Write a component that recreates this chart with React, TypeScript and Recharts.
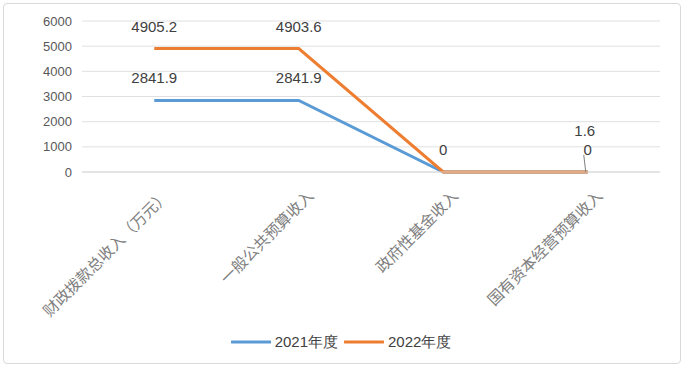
import React from 'react';
import { LineChart, Line, XAxis, YAxis, CartesianGrid, Legend, LabelList } from 'recharts';

const categories = ['财政拨款总收入（万元）', '一般公共预算收入', '政府性基金收入', '国有资本经营预算收入'];
const values2021 = [2841.9, 2841.9, 0, 0];
const values2022 = [4905.2, 4903.6, 0, 1.6];
const yTicks = [0, 1000, 2000, 3000, 4000, 5000, 6000];

const data = categories.map((c, i) => ({ name: c, y2021: values2021[i], y2022: values2022[i] }));

const BLUE = '#5B9BD5';
const ORANGE = '#ED7D31';
const NUM_FONT = '"Liberation Sans", Arial, sans-serif';

const CatTick = (props: any) => {
  const { x, y, payload } = props;
  const ax = x + 16;
  const ay = y + 17;
  return (
    <text
      x={ax}
      y={ay}
      transform={`rotate(-45, ${ax}, ${ay})`}
      textAnchor="end"
      fontSize={15.5}
      fill="#808080"
      fontFamily='"Noto Sans CJK SC", serif'
    >
      {payload.value}
    </text>
  );
};

const makeLabel = (series: string) => (props: any) => {
  const { x, y, value, index } = props;
  if (series === '2022' && index === 2) return null;
  if (series === '2022' && index === 3) {
    return (
      <g>
        <line x1={x - 2} y1={y} x2={x - 4} y2={y - 17} stroke="#808080" strokeWidth={1} />
        <text x={x - 3} y={y - 36} textAnchor="middle" fontSize={15} fill="#404040" fontFamily={NUM_FONT}>
          {value}
        </text>
      </g>
    );
  }
  return (
    <text x={x} y={y - 17} textAnchor="middle" fontSize={15} fill="#404040" fontFamily={NUM_FONT}>
      {value}
    </text>
  );
};

const LegendContent = () => (
  <div style={{ display: 'flex', justifyContent: 'center', alignItems: 'center', fontFamily: NUM_FONT, fontSize: 15, color: '#404040', height: 24, paddingLeft: 22, boxSizing: 'border-box' }}>
    <svg width={40} height={6} style={{ marginRight: 4 }}><line x1={1} y1={3} x2={39} y2={3} stroke={BLUE} strokeWidth={3} strokeLinecap="round" /></svg>
    <span style={{ marginRight: 6 }}>2021年度</span>
    <svg width={40} height={6} style={{ marginRight: 4 }}><line x1={1} y1={3} x2={39} y2={3} stroke={ORANGE} strokeWidth={3} strokeLinecap="round" /></svg>
    <span>2022年度</span>
  </div>
);

export default function App() {
  return (
    <div style={{ position: 'absolute', left: 0, top: 0, width: 688, height: 370, background: '#fff' }}>
      <div style={{ position: 'absolute', left: 3, top: 3, width: 678, height: 361, border: '1px solid #d9d9d9', borderRadius: 4, boxSizing: 'border-box' }} />
      <LineChart width={688} height={370} data={data} margin={{ top: 21, right: 28, left: 0, bottom: 16 }}>
        <CartesianGrid horizontal vertical={false} stroke="#e0e0e0" />
        <XAxis
          dataKey="name"
          scale="band"
          tick={<CatTick />}
          tickLine={false}
          axisLine={{ stroke: '#d9d9d9' }}
          height={158}
          interval={0}
        />
        <YAxis
          width={82}
          domain={[0, 6000]}
          ticks={yTicks}
          tickLine={false}
          axisLine={false}
          tickMargin={4}
          tick={{ fontSize: 13, fill: '#595959', fontFamily: NUM_FONT }}
        />
        <Legend verticalAlign="bottom" content={<LegendContent />} />
        <Line dataKey="y2021" name="2021年度" stroke={BLUE} strokeWidth={3} dot={false} isAnimationActive={false}>
          <LabelList dataKey="y2021" content={makeLabel('2021')} />
        </Line>
        <Line dataKey="y2022" name="2022年度" stroke={ORANGE} strokeWidth={3} dot={false} isAnimationActive={false}>
          <LabelList dataKey="y2022" content={makeLabel('2022')} />
        </Line>
      </LineChart>
    </div>
  );
}
